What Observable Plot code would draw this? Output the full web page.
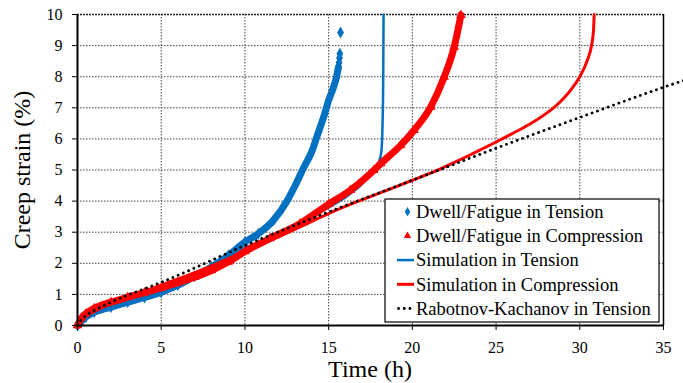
<!DOCTYPE html>
<html>
<head>
<meta charset="utf-8">
<script src="https://cdn.jsdelivr.net/npm/d3@7"></script>
<script src="https://cdn.jsdelivr.net/npm/@observablehq/plot@0.6"></script>
<style>
  body { margin: 0; background: #fff; }
  svg { display: block; }
</style>
</head>
<body>
<div id="chart"></div>
<script>
// Dwell/fatigue creep test data (strain in %, time in h)
const tensionTime   = [0, 0.25, 0.5, 1, 2, 3, 4, 5, 6, 7, 8, 9, 10, 10.8, 11.7, 12.53, 13.0, 13.52, 14.0, 14.36, 14.7, 15.0, 15.25, 15.47, 15.58];
const tensionStrain = [0, 0.15, 0.27, 0.43, 0.59, 0.75, 0.9, 1.07, 1.3, 1.58, 1.88, 2.25, 2.68, 2.95, 3.38, 4.02, 4.5, 5.09, 5.6, 6.17, 6.7, 7.24, 7.6, 7.99, 8.3];
const tensionTailTime   = [15.62, 15.65, 15.67, 15.71];
const tensionTailStrain = [8.45, 8.6, 8.74, 9.42];

const compressionTime   = [0, 0.25, 0.5, 1, 2, 3, 4, 5, 6, 7, 8, 9, 10, 11.5, 13.3, 15, 16.3, 17.7, 18.1, 19.3, 20.1, 21.1, 21.9, 22.5, 22.9];
const compressionStrain = [0, 0.25, 0.38, 0.55, 0.75, 0.91, 1.06, 1.21, 1.38, 1.55, 1.77, 2.04, 2.38, 2.8, 3.28, 3.9, 4.35, 4.99, 5.2, 5.79, 6.28, 7.03, 7.99, 8.96, 9.98];

// Model curves
const simTensionTime   = [0, 0.5, 1, 2, 3, 4, 5, 6, 7, 8, 9, 10, 11, 12, 13, 14, 15, 16, 17, 17.7, 18.0, 18.15, 18.22, 18.26, 18.28];
const simTensionStrain = [0, 0.25, 0.4, 0.6, 0.77, 0.93, 1.1, 1.32, 1.58, 1.85, 2.15, 2.48, 2.72, 2.98, 3.22, 3.5, 3.8, 4.12, 4.55, 5.0, 5.25, 5.6, 6.5, 8.0, 10];

const simCompressionTime   = [0, 0.5, 1, 2, 3, 4, 5, 6, 7, 8, 9, 10, 12, 14, 15, 16, 18, 20, 21, 22, 23, 24, 25, 26, 27, 28, 28.5, 29, 29.5, 30, 30.45, 30.7, 30.82, 30.86];
const simCompressionStrain = [0, 0.3, 0.45, 0.7, 0.9, 1.1, 1.3, 1.5, 1.7, 1.92, 2.15, 2.38, 2.85, 3.35, 3.6, 3.83, 4.25, 4.67, 4.88, 5.12, 5.37, 5.63, 5.9, 6.18, 6.47, 6.82, 7.03, 7.28, 7.6, 8.0, 8.53, 9.0, 9.5, 10];

const rkTime   = [0, 0.25, 0.5, 1, 2, 3, 4, 5, 10, 15, 20, 25, 30, 35, 36.2];
const rkStrain = [0, 0.2, 0.32, 0.48, 0.75, 0.98, 1.18, 1.39, 2.57, 3.65, 4.67, 5.7, 6.69, 7.66, 7.88];

const xTicks = [0, 5, 10, 15, 20, 25, 30, 35];
const yTicks = [0, 1, 2, 3, 4, 5, 6, 7, 8, 9, 10];

const legendLabels = [
  "Dwell/Fatigue in Tension",
  "Dwell/Fatigue in Compression",
  "Simulation in Tension",
  "Simulation in Compression",
  "Rabotnov-Kachanov in Tension"
];

const BLUE = "#0070C0";
const RED = "#FF0000";
const FONT = "'Liberation Serif', 'Times New Roman', serif";

const toRows = (xs, ys) => xs.map((t, i) => ({t, s: ys[i]}));
const tension = toRows(tensionTime, tensionStrain);
const tensionTail = toRows(tensionTailTime, tensionTailStrain);
const compression = toRows(compressionTime, compressionStrain);
const simTension = toRows(simTensionTime, simTensionStrain);
const simCompression = toRows(simCompressionTime, simCompressionStrain);
const rk = toRows(rkTime, rkStrain);

const gridStyle = {stroke: "#444", strokeOpacity: 1, strokeWidth: 1, strokeDasharray: "1.5,1.5"};

const chart = Plot.plot({
  width: 683,
  height: 383,
  marginLeft: 77,
  marginRight: 20,
  marginTop: 14,
  marginBottom: 58,
  style: {fontFamily: FONT, fontSize: "16px", color: "black", background: "white"},
  x: {domain: [0, 35]},
  y: {domain: [0, 10]},
  marks: [
    Plot.gridX(xTicks.filter(d => d > 0 && d < 35), gridStyle),
    Plot.gridY(yTicks.filter(d => d > 0 && d < 10), gridStyle),
    Plot.ruleY([10], {stroke: "#222", strokeWidth: 1.3, strokeDasharray: "2,1"}),
    Plot.ruleX([35], {stroke: "black", strokeWidth: 1.5}),

    // measured data, dense markers forming a band
    Plot.line(tension, {x: "t", y: "s", stroke: BLUE, strokeWidth: 7, curve: "monotone-x"}),
    Plot.dot(tension, {x: "t", y: "s", fill: BLUE, symbol: "diamond", r: 3.6}),
    Plot.dot(tensionTail, {x: "t", y: "s", fill: BLUE, symbol: "diamond", r: 3.6}),
    Plot.line(simTension, {x: "t", y: "s", stroke: BLUE, strokeWidth: 2.5, curve: "monotone-x"}),
    Plot.line(compression, {x: "t", y: "s", stroke: RED, strokeWidth: 7, curve: "monotone-x"}),
    Plot.dot(compression, {x: "t", y: "s", fill: RED, symbol: "triangle", r: 3.6}),
    Plot.line(simCompression, {x: "t", y: "s", stroke: RED, strokeWidth: 3, curve: "monotone-x"}),
    Plot.line(rk, {x: "t", y: "s", stroke: "black", strokeWidth: 2.8, strokeDasharray: "0.1,5.6", strokeLinecap: "round", curve: "monotone-x"}),

    Plot.ruleX([0], {stroke: "black", strokeWidth: 2}),
    Plot.ruleY([0], {stroke: "black", strokeWidth: 2}),
    Plot.axisX({ticks: xTicks, tickSize: 5, tickPadding: 11, label: null, fontSize: 16}),
    Plot.axisY({ticks: yTicks, tickSize: 5, tickPadding: 10, label: null, fontSize: 16})
  ]
});

document.getElementById("chart").appendChild(chart);

const svg = d3.select(chart);

// axis titles
svg.append("text")
  .attr("x", 370).attr("y", 377)
  .attr("text-anchor", "middle")
  .style("font-family", FONT).style("font-size", "24px").attr("fill", "black")
  .text("Time (h)");
svg.append("text")
  .attr("transform", "translate(30,170) rotate(-90)")
  .attr("text-anchor", "middle")
  .style("font-family", FONT).style("font-size", "24px").attr("fill", "black")
  .text("Creep strain (%)");

// legend box
const lg = svg.append("g").attr("transform", "translate(385,199)");
lg.append("rect").attr("width", 274).attr("height", 123)
  .attr("fill", "white").attr("stroke", "black").attr("stroke-width", 1.2);
const rowY = i => 12.7 + i * 24.2;
legendLabels.forEach((label, i) => {
  lg.append("text").attr("x", 31).attr("y", rowY(i)).attr("dy", "0.34em")
    .attr("text-anchor", "start")
    .style("font-family", FONT).style("font-size", "18.5px").attr("fill", "black")
    .text(label);
});
// symbol samples
lg.append("path").attr("transform", `translate(22.5,${rowY(0)})`)
  .attr("d", d3.symbol(d3.symbolDiamond, 26)()).attr("fill", BLUE);
lg.append("path").attr("transform", `translate(22.5,${rowY(1)})`)
  .attr("d", d3.symbol(d3.symbolTriangle, 24)()).attr("fill", RED);
lg.append("line").attr("x1", 12).attr("x2", 29).attr("y1", rowY(2)).attr("y2", rowY(2))
  .attr("stroke", BLUE).attr("stroke-width", 2.5);
lg.append("line").attr("x1", 12).attr("x2", 29).attr("y1", rowY(3)).attr("y2", rowY(3))
  .attr("stroke", RED).attr("stroke-width", 3);
lg.append("line").attr("x1", 13.5).attr("x2", 29).attr("y1", rowY(4)).attr("y2", rowY(4))
  .attr("stroke", "black").attr("stroke-width", 2.8)
  .attr("stroke-dasharray", "0.1,5.6").attr("stroke-linecap", "round");
</script>
</body>
</html>
